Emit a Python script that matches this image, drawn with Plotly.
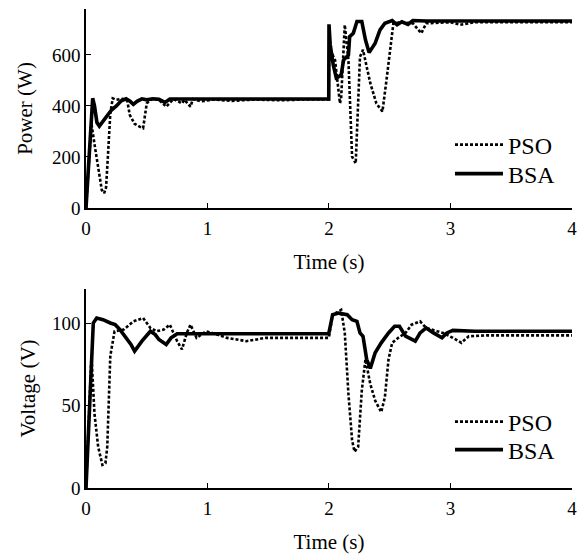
import plotly.graph_objects as go

# ---------------- data ----------------
# Power (W) vs time (s)
bsa_p_t = [0, 0.055, 0.07, 0.09, 0.11, 0.14, 0.17, 0.21, 0.25, 0.29, 0.33, 0.36, 0.39,
           0.42, 0.46, 0.50, 0.55, 0.60, 0.65, 0.69, 0.75, 1.0, 1.5, 1.998, 2.0, 2.01,
           2.035, 2.06, 2.08, 2.10, 2.12, 2.16, 2.17, 2.20, 2.23, 2.27, 2.30, 2.33, 2.38,
           2.42, 2.46, 2.52, 2.56, 2.60, 2.65, 2.69, 2.8, 3.0, 3.5, 4.0]
bsa_p = [0, 430, 400, 335, 321, 340, 355, 384, 400, 420, 428, 420, 406,
         418, 428, 424, 428, 426, 414, 427, 427, 427, 427, 427, 720, 640,
         561, 510, 515, 521, 580, 600, 672, 685, 731, 731, 659, 609, 646,
         698, 724, 735, 718, 730, 720, 735, 733, 733, 733, 733]

pso_p_t = [0, 0.045, 0.07, 0.09, 0.11, 0.13, 0.15, 0.165, 0.18, 0.20, 0.22, 0.25, 0.30,
           0.34, 0.36, 0.40, 0.44, 0.47, 0.50, 0.54, 0.60, 0.66, 0.72, 0.79, 0.81, 0.86,
           0.88, 0.95, 1.05, 1.2, 1.4, 1.6, 1.8, 1.998, 2.0, 2.03, 2.05, 2.07, 2.09, 2.10,
           2.13, 2.16, 2.19, 2.22, 2.255, 2.28, 2.34, 2.39, 2.44, 2.47, 2.53, 2.60, 2.69,
           2.76, 2.80, 2.9, 3.0, 3.08, 3.2, 3.5, 4.0]
pso_p = [0, 330, 250, 190, 120, 70, 58, 80, 200, 370, 430, 424, 428,
         420, 365, 330, 319, 313, 410, 427, 424, 397, 427, 410, 424, 397,
         427, 418, 425, 420, 425, 422, 425, 425, 600, 600, 580, 500, 410, 430,
         718, 580, 201, 175, 593, 620, 489, 410, 378, 489, 724, 728, 724,
         685, 724, 726, 728, 718, 728, 728, 728]

# Voltage (V) vs time (s)
bsa_v_t = [0, 0.06, 0.088, 0.14, 0.20, 0.24, 0.28, 0.335, 0.37, 0.40, 0.43, 0.46, 0.53,
           0.57, 0.60, 0.66, 0.70, 0.75, 1.0, 1.5, 1.998, 2.03, 2.08, 2.15, 2.19, 2.23,
           2.255, 2.28, 2.31, 2.34, 2.38, 2.43, 2.49, 2.54, 2.58, 2.63, 2.71, 2.75, 2.80,
           2.86, 2.93, 2.97, 3.02, 3.2, 3.5, 4.0]
bsa_v = [0, 100, 103, 102, 100, 99, 96, 91, 87, 83, 86, 89, 95,
         93, 90, 87, 91, 93.5, 93.5, 93.5, 93.5, 105, 106, 105, 102, 101,
         94, 92, 78, 72.5, 82, 88, 94, 98, 98, 92, 89, 94, 97,
         94, 91, 94, 95.5, 95, 95, 95]

pso_v_t = [0, 0.045, 0.07, 0.10, 0.135, 0.16, 0.175, 0.20, 0.235, 0.31, 0.39, 0.47, 0.53,
           0.58, 0.64, 0.69, 0.75, 0.79, 0.83, 0.86, 0.91, 0.99, 1.08, 1.16, 1.32, 1.48,
           1.7, 1.998, 2.03, 2.10, 2.13, 2.16, 2.19, 2.21, 2.24, 2.27, 2.30, 2.34, 2.38,
           2.43, 2.46, 2.49, 2.52, 2.57, 2.63, 2.68, 2.75, 2.80, 2.89, 2.94, 3.02, 3.09,
           3.15, 3.3, 3.6, 4.0]
pso_v = [0, 80, 45, 25, 14, 15, 25, 80, 95, 96, 101, 103, 97,
         95, 96, 99, 89, 84, 94, 99, 91, 95, 93, 91, 89, 91,
         91, 91, 105, 108, 94, 57, 29, 22, 25, 59, 78, 63, 53,
         46, 55, 78, 88, 91, 94, 99, 101, 97, 95, 94, 91, 88,
         92, 92.5, 92.5, 92.5]

x_ticks = [0, 1, 2, 3, 4]
p_ticks = [0, 200, 400, 600]
v_ticks = [0, 50, 100]

# ---------------- figure ----------------
FONT = "Liberation Serif"
pso_line = dict(color="black", width=2.6, dash="3px,2px")
bsa_line = dict(color="black", width=3.6)

fig = go.Figure()
fig.add_trace(go.Scatter(x=pso_p_t, y=pso_p, mode="lines", name="PSO", line=pso_line,
                         xaxis="x", yaxis="y", legend="legend", showlegend=True))
fig.add_trace(go.Scatter(x=bsa_p_t, y=bsa_p, mode="lines", name="BSA", line=bsa_line,
                         xaxis="x", yaxis="y", legend="legend2", showlegend=True))
fig.add_trace(go.Scatter(x=pso_v_t, y=pso_v, mode="lines", name="PSO", line=pso_line,
                         xaxis="x2", yaxis="y2", legend="legend3", showlegend=True))
fig.add_trace(go.Scatter(x=bsa_v_t, y=bsa_v, mode="lines", name="BSA", line=bsa_line,
                         xaxis="x2", yaxis="y2", legend="legend4", showlegend=True))

axis_common = dict(showline=True, linecolor="black", linewidth=1.5, ticks="inside",
                   ticklen=5, tickwidth=1, tickcolor="black", showgrid=False,
                   zeroline=False, automargin=False,
                   tickfont=dict(size=19, color="black", family=FONT))
x_extra = dict(ticklabelstandoff=2, ticklabeloverflow="allow")
title_font = dict(size=21, family=FONT, color="black")

LEG_X = 0.749


def leg(y):
    return dict(x=LEG_X, y=y, xanchor="left", yanchor="middle", bgcolor="rgba(0,0,0,0)",
                font=dict(size=24, family=FONT, color="black"), itemwidth=48,
                visible=True)


fig.update_layout(
    width=577, height=556,
    showlegend=True,
    margin=dict(l=86, r=5, t=9, b=68),
    paper_bgcolor="white", plot_bgcolor="white",
    font=dict(family=FONT, color="black"),
    xaxis=dict(domain=[0, 1], anchor="y", range=[0, 4.0001], tickvals=x_ticks,
               title=dict(text="Time (s)", font=title_font, standoff=17),
               **axis_common, **x_extra),
    yaxis=dict(domain=[0.5846, 1], anchor="x", range=[0, 780], tickvals=p_ticks,
               title=dict(text="Power (W)", font=title_font, standoff=14), **axis_common),
    xaxis2=dict(domain=[0, 1], anchor="y2", range=[0, 4.0001], tickvals=x_ticks,
                title=dict(text="Time (s)", font=title_font, standoff=17),
                **axis_common, **x_extra),
    yaxis2=dict(domain=[0, 0.4154], anchor="x2", range=[0, 120.6], tickvals=v_ticks,
                title=dict(text="Voltage (V)", font=title_font, standoff=11), **axis_common),
    legend=leg(0.716),
    legend2=leg(0.6555),
    legend3=leg(0.1378),
    legend4=leg(0.0793),
)

fig.write_html("out.html", post_script="document.body.style.margin='0';",
               config={"displayModeBar": False})
